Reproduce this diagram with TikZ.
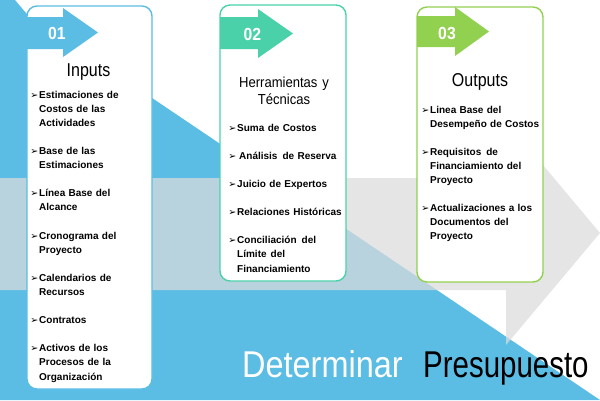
\documentclass[tikz,border=0pt]{standalone}
\usepackage{fontspec}
\setmainfont{Liberation Sans}
\newfontfamily\titlefont[FakeStretch=0.86]{Liberation Sans}
\newfontfamily\narrowfont[FakeStretch=0.9]{Liberation Sans}
\newfontfamily\detfont[FakeStretch=0.87]{Liberation Sans}
\newfontfamily\presfont[FakeStretch=0.79]{Liberation Sans}
\newfontfamily\bulfont{DejaVu Sans}
\usepackage{xcolor}
\definecolor{cblue}{HTML}{5BBCE4}
\definecolor{cteal}{HTML}{4BD1AA}
\definecolor{cgreen}{HTML}{92D050}
\definecolor{cgray}{HTML}{DCDCDC}
\newcommand{\bul}{\leavevmode\llap{{\bulfont\fontsize{9.5}{9.5}\selectfont ➢}\hspace{0.8pt}}}

\begin{document}
\begin{tikzpicture}[x=1pt,y=-1pt,
  card/.style={rounded corners=10pt,line width=1.4pt,fill=white},
  tagnum/.style={inner sep=0,anchor=base,text=white,font=\narrowfont\bfseries\fontsize{17.5}{17.5}\selectfont},
  title/.style={inner sep=0,anchor=base,font=\titlefont\fontsize{18.6}{18.6}\selectfont},
  itemlist/.style={inner sep=0,anchor=base west,text width=112pt,align=left,font=\bfseries\fontsize{10}{14.1}\selectfont}]

\useasboundingbox (0,0) rectangle (600,400);
\fill [white] (0,0) rectangle (600,400);

% background
\fill [cblue] (0,0) -- (15,0) -- (26,13) -- (600,400) -- (0,400) -- cycle;
\fill [cgray,fill opacity=0.73] (0,178) -- (506,178) -- (506,121) -- (600,233)
  -- (506,345) -- (506,290) -- (0,290) -- cycle;

% inputs
\draw [card,draw=cblue] (27,6) rectangle (152,389);
\fill [cblue] (27,17) -- (63,17) -- (63,8) -- (98,32.5) -- (63,57) -- (63,49) -- (27,49) -- cycle;
\node [tagnum] (n1) at (57,39.3) {01};
\node [title] (t1) at (88.5,76) {Inputs};
\node [itemlist] (l1) at (39,98) {\bul Estimaciones de\\Costos de las\\Actividades\\[14.1pt]
\bul Base de las\\Estimaciones\\[14.1pt]
\bul Línea Base del\\Alcance\\[14.1pt]
\bul Cronograma del\\Proyecto\\[14.1pt]
\bul Calendarios de\\Recursos\\[14.1pt]
\bul Contratos\\[14.1pt]
\bul Activos de los\\Procesos de la\\Organización};

% herramientas
\draw [card,draw=cteal] (220,5) rectangle (346,281);
\fill [cteal] (220,17) -- (258,17) -- (258,9) -- (293,33.5) -- (258,58) -- (258,49) -- (220,49) -- cycle;
\node [tagnum] (n2) at (252.5,40.5) {02};
\node [inner sep=0,anchor=base,text width=120pt,align=center,
  font=\narrowfont\fontsize{14.5}{17}\selectfont] (t2) at (284,87) {Herramientas y\\Técnicas};
\node [itemlist] (l2) at (237,131) {\bul Suma de Costos\\[14.1pt]
\bul\hspace*{2pt}Análisis\hspace{5pt}de Reserva\\[14.1pt]
\bul Juicio de Expertos\\[14.1pt]
\bul Relaciones Históricas\\[14.1pt]
\bul Conciliación\hspace{5pt}del\\Límite\hspace{4pt}del\\Financiamiento};

% outputs
\draw [card,draw=cgreen] (417,7) rectangle (543,282);
\fill [cgreen] (417,16) -- (455,16) -- (455,7) -- (489,31.5) -- (455,56) -- (455,47) -- (417,47) -- cycle;
\node [tagnum] (n3) at (447,39) {03};
\node [title] (t3) at (480,86) {Outputs};
\node [itemlist] (l3) at (430,113) {\bul Linea Base del\\Desempeño de Costos\\[14.1pt]
\bul Requisitos\hspace{5pt}de\\Financiamiento del\\Proyecto\\[14.1pt]
\bul Actualizaciones\hspace{3pt}a los\\Documentos del\\Proyecto};

% process name
\node [inner sep=0,anchor=base west,text=white,font=\detfont\fontsize{37.3}{37.3}\selectfont] (det) at (242,377) {Determinar};
\node [inner sep=0,anchor=base west,font=\presfont\fontsize{37.3}{37.3}\selectfont] (pres) at (423,377) {Presupuesto};

\end{tikzpicture}
\end{document}
